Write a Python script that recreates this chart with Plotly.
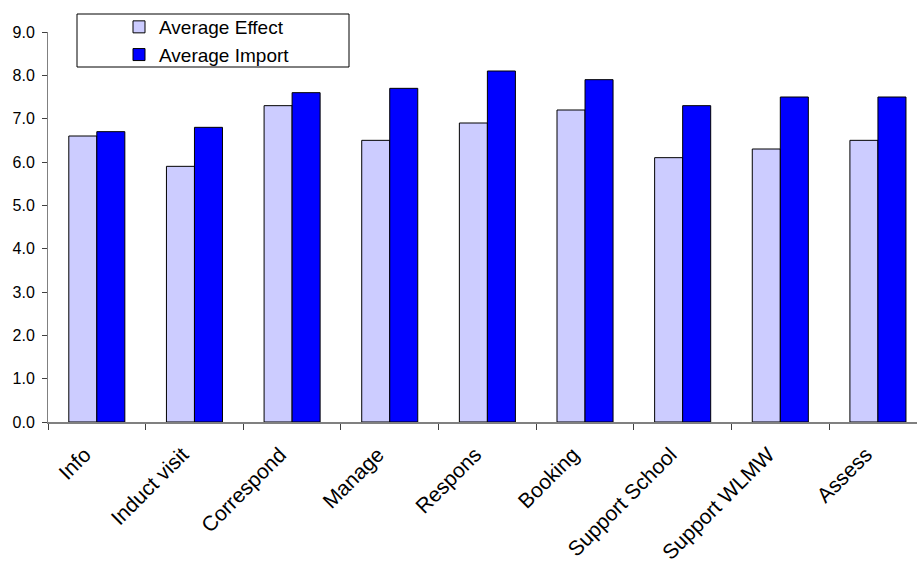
import plotly.graph_objects as go

categories = ["Info", "Induct visit", "Correspond", "Manage", "Respons",
              "Booking", "Support School", "Support WLMW", "Assess"]
avg_effect = [6.6, 5.9, 7.3, 6.5, 6.9, 7.2, 6.1, 6.3, 6.5]
avg_import = [6.7, 6.8, 7.6, 7.7, 8.1, 7.9, 7.3, 7.5, 7.5]

FONT = "Arial, 'Liberation Sans', sans-serif"

fig = go.Figure()
fig.add_trace(go.Bar(x=categories, y=avg_effect, name="Average Effect",
                     marker=dict(color="#CCCCFF", line=dict(color="#000000", width=1))))
fig.add_trace(go.Bar(x=categories, y=avg_import, name="Average Import",
                     marker=dict(color="#0000FF", line=dict(color="#000000", width=1))))

W, H = 917, 565
ml, mr, mt, mb = 48, 0, 32, 143
pw, ph = W - ml - mr, H - mt - mb

def px_x(x):
    return (x - ml) / pw

def px_y(y):
    return (H - mb - y) / ph

fig.update_layout(
    width=W, height=H,
    margin=dict(l=ml, r=mr, t=mt, b=mb, pad=0),
    paper_bgcolor="white", plot_bgcolor="white",
    barmode="group", bargap=0.426, bargroupgap=0,
    font=dict(family=FONT, color="#000000"),
    showlegend=True,
    legend=dict(
        x=px_x(119), y=px_y(8), xanchor="left", yanchor="top",
        bgcolor="rgba(0,0,0,0)", borderwidth=0,
        font=dict(size=19, family=FONT), itemwidth=30,
    ),
    shapes=[dict(type="rect", xref="paper", yref="paper",
                 x0=px_x(77), x1=px_x(349), y0=px_y(67), y1=px_y(14),
                 line=dict(color="#000000", width=1), fillcolor="white", layer="below")],
)

fig.update_xaxes(
    type="category", range=[-0.5, 8.4], automargin=False,
    showline=True, linecolor="#808080", linewidth=2,
    ticks="outside", tickson="boundaries", ticklen=6, tickcolor="#404040",
    tickangle=-45, tickfont=dict(size=21, family=FONT),
    ticklabelstandoff=10, ticklabelshift=-12,
    showgrid=False, zeroline=False,
)
fig.update_yaxes(
    range=[0, 9], dtick=1, tickformat=".1f", automargin=False,
    showline=True, linecolor="#808080", linewidth=1,
    ticks="outside", ticklen=5, tickcolor="#404040",
    tickfont=dict(size=16, family=FONT), ticklabelstandoff=4,
    showgrid=False, zeroline=False,
)

fig.write_html("out.html")
